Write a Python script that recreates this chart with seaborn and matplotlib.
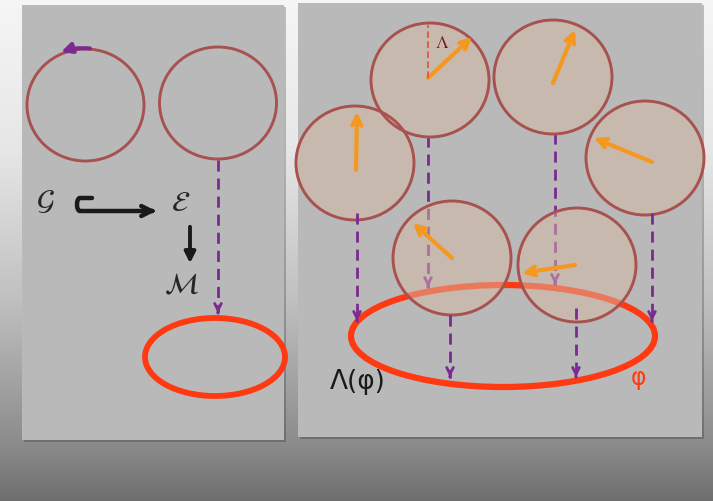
import numpy as np
import pandas as pd
import seaborn as sns
import matplotlib.pyplot as plt
from matplotlib.patches import Ellipse, Rectangle, FancyArrowPatch
from matplotlib.path import Path
from matplotlib.patches import PathPatch

sns.set_theme(style="white")
plt.rcParams['mathtext.fontset'] = 'stix'

# Right panel: the six fibre circles (centre, pixel coords)
circle_x = [430, 553, 355, 645, 452, 577]
circle_y = [80, 77, 163, 158, 258, 265]
# orange vectors inside each circle (tail -> head)
vec_x0 = [428, 553, 356, 652, 452, 575]
vec_y0 = [78, 83, 170, 162, 258, 265]
vec_x1 = [472, 575, 357, 594, 413, 522]
vec_y1 = [37, 30, 112, 138, 223, 273]
# dashed projections down to the base loop
drop_x = [428, 555, 357, 652, 450, 576]
drop_y0 = [136, 133, 213, 213, 315, 308]
drop_y1 = [288, 285, 322, 322, 378, 378]
drop_behind = [True, True, False, False, False, False]

# Left panel
left_circle_x = [85.5, 218]
left_circle_y = [105, 103]

purple = '#7b2a92'
orange = '#f4981f'
red = '#ff3a12'
brown = '#a8524f'
fill = '#d7b9a6'
panel = '#b9b9b9'

fig = plt.figure(figsize=(7.13, 5.01), dpi=100)
ax = fig.add_axes([0, 0, 1, 1])
ax.set_xlim(0, 713)
ax.set_ylim(501, 0)
ax.axis('off')

# background gradient
yy = np.arange(501)
shade = np.interp(yy, [0, 150, 300, 440, 501], [0.96, 0.9, 0.75, 0.55, 0.43])
grad = np.repeat(shade[:, None], 713, axis=1)
ax.imshow(grad, extent=[0, 713, 501, 0], aspect='auto', cmap='gray',
          vmin=0, vmax=1, zorder=0)

# panels with a soft shadow
for (x0, y0, x1, y1) in [(22, 5, 284, 440), (298, 3, 702, 437)]:
    ax.add_patch(Rectangle((x0 + 2, y0 + 2), x1 - x0, y1 - y0, color='k',
                           alpha=0.25, lw=0, zorder=0.5))
    ax.add_patch(Rectangle((x0, y0), x1 - x0, y1 - y0, color=panel, lw=0,
                           zorder=1))

# ---- left panel ----
for cx, cy in zip(left_circle_x, left_circle_y):
    ax.add_patch(Ellipse((cx, cy), 117, 112, fill=False, ec=brown, lw=2.1,
                         zorder=3))
# purple arc arrow on the first circle
ax.add_patch(FancyArrowPatch((90, 48.5), (61, 52), connectionstyle='arc3,rad=0.1',
                             arrowstyle='-|>', mutation_scale=15, lw=3,
                             color=purple, shrinkA=0, shrinkB=0, zorder=4))
ax.add_patch(Ellipse((215, 357), 140, 78, fill=False, ec=red, lw=4.2, zorder=3))

left_drop = pd.DataFrame({'x': [218, 218], 'y': [160, 312]})
sns.lineplot(data=left_drop, x='x', y='y', sort=False, estimator=None, ax=ax,
             color=purple, lw=2, linestyle=(0, (4, 2.5)), zorder=4)
ax.annotate('', xy=(218, 316), xytext=(218, 310),
            arrowprops=dict(arrowstyle='->', color=purple, lw=2,
                            mutation_scale=12), zorder=4)

ax.text(45, 201, r'$\mathcal{G}$', fontsize=21, ha='center', va='center', zorder=5)
ax.text(181, 203, r'$\mathcal{E}$', fontsize=21, ha='center', va='center', zorder=5)
ax.text(181, 285, r'$\mathcal{M}$', fontsize=21, ha='center', va='center', zorder=5)

# hooked arrow G -> E
hook = Path([(92, 198), (80, 198), (76, 198), (76, 211), (80, 211), (150, 211)],
            [Path.MOVETO, Path.LINETO, Path.CURVE4, Path.CURVE4, Path.CURVE4,
             Path.LINETO])
ax.add_patch(PathPatch(hook, fill=False, lw=3.2, ec='k', capstyle='round',
                       zorder=5))
ax.annotate('', xy=(159, 211), xytext=(148, 211),
            arrowprops=dict(arrowstyle='->', color='k', lw=3.2,
                            mutation_scale=18), zorder=5)
ax.annotate('', xy=(190, 266), xytext=(190, 224),
            arrowprops=dict(arrowstyle='-|>', color='k', lw=2.8,
                            mutation_scale=16), zorder=5)

# ---- right panel ----
ax.add_patch(Ellipse((503, 336), 304, 102, fill=False, ec=red, lw=4.5, zorder=2))

drops = pd.DataFrame({
    'x': np.repeat(drop_x, 2),
    'y': np.ravel(np.column_stack([drop_y0, drop_y1])),
    'line': np.repeat(np.arange(len(drop_x)), 2),
    'behind': np.repeat(drop_behind, 2),
})
for behind, z in [(True, 2.5), (False, 4)]:
    sub = drops[drops['behind'] == behind]
    sns.lineplot(data=sub, x='x', y='y', units='line', estimator=None,
                 sort=False, ax=ax, color=purple, lw=2,
                 linestyle=(0, (4, 2.5)), zorder=z)
for x, y1, behind in zip(drop_x, drop_y1, drop_behind):
    ax.annotate('', xy=(x, y1 + 2), xytext=(x, y1 - 4),
                arrowprops=dict(arrowstyle='->', color=purple, lw=2,
                                mutation_scale=12),
                zorder=2.5 if behind else 4)

for cx, cy in zip(circle_x, circle_y):
    ax.add_patch(Ellipse((cx, cy), 118, 114, fc=fill, alpha=0.5, lw=0, zorder=3))
    ax.add_patch(Ellipse((cx, cy), 118, 114, fill=False, ec=brown, lw=2.1,
                         zorder=3.1))

for x0, y0, x1, y1 in zip(vec_x0, vec_y0, vec_x1, vec_y1):
    ax.annotate('', xy=(x1, y1), xytext=(x0, y0),
                arrowprops=dict(arrowstyle='->', color=orange, lw=3,
                                mutation_scale=16, shrinkA=0, shrinkB=0),
                zorder=5)

# angle marker on the first circle
ax.plot([428, 428], [78, 25], color='#e0503a', lw=1.2, ls=(0, (4, 2)), zorder=5)
ax.text(442, 43, r'$\Lambda$', fontsize=13, color='#7a1a1a', ha='center',
        va='center', zorder=5)

ax.text(358, 382, 'Λ(φ)', fontsize=19, color='#1a1a1a', ha='center',
        va='center', family='DejaVu Sans', zorder=5)
ax.text(638, 378, 'φ', fontsize=17, color=red, ha='center', va='center',
        zorder=5)

fig.savefig('out.png', dpi=100)
